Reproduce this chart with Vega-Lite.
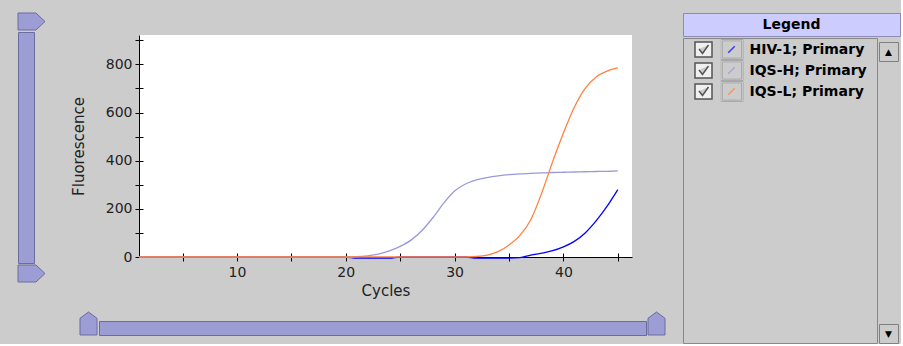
{
"$schema": "https://vega.github.io/schema/vega-lite/v6.json",
"background": "#cccccc",
"padding": {"left": 17, "top": 12, "right": 0, "bottom": 0},
"config": {
  "view": {"stroke": null},
  "font": "DejaVu Sans",
  "concat": {"spacing": 0},
  "axis": {"domainColor": "#000000", "tickColor": "#000000", "labelColor": "#222222", "titleColor": "#222222", "labelFont": "DejaVu Sans", "labelFontSize": 14, "titleFont": "DejaVu Sans", "titleFontSize": 15, "titleFontWeight": "normal", "grid": false, "tickSize": 4}
},
"resolve": {"scale": {"color": "independent", "shape": "independent", "strokeDash": "independent"}, "legend": {"color": "independent", "shape": "independent", "strokeDash": "independent"}},
"spacing": 0,
"hconcat": [
  {"vconcat": [
    {"width": 27, "height": 17, "data": {"values": [{}]}, "mark": {"type": "point", "shape": "M-1,-0.63L0.33,-0.63L1,0L0.33,0.63L-1,0.63Z", "size": 729, "filled": true, "fill": "#9d9dd5", "stroke": "#6c6c9c", "strokeWidth": 1, "strokeJoin": "round", "opacity": 1}},
    {"width": 16, "height": 231, "data": {"values": []}, "mark": "point", "view": {"fill": "#9d9dd5", "stroke": "#6c6c9c"}},
    {"width": 27, "height": 17, "data": {"values": [{}]}, "mark": {"type": "point", "shape": "M-1,-0.63L0.33,-0.63L1,0L0.33,0.63L-1,0.63Z", "size": 729, "filled": true, "fill": "#9d9dd5", "stroke": "#6c6c9c", "strokeWidth": 1, "strokeJoin": "round", "opacity": 1}}
  ], "spacing": 0},
  {"width": 23.5, "height": 1, "data": {"values": []}, "mark": "point"},
  {"vconcat": [
    {"width": 1, "height": 22, "data": {"values": []}, "mark": "point"},
    {"hconcat": [
      {"width": 1, "height": 1, "data": {"values": []}, "mark": "point"},
      {
        "width": 493, "height": 222,
        "view": {"fill": "#ffffff", "stroke": null},
        "data": {"values": [
{"cycle":1,"series":"HIV-1; Primary","fluorescence":0},{"cycle":2,"series":"HIV-1; Primary","fluorescence":0},{"cycle":3,"series":"HIV-1; Primary","fluorescence":0},{"cycle":4,"series":"HIV-1; Primary","fluorescence":0},{"cycle":5,"series":"HIV-1; Primary","fluorescence":0},{"cycle":6,"series":"HIV-1; Primary","fluorescence":0},{"cycle":7,"series":"HIV-1; Primary","fluorescence":0},{"cycle":8,"series":"HIV-1; Primary","fluorescence":0},{"cycle":9,"series":"HIV-1; Primary","fluorescence":0},{"cycle":10,"series":"HIV-1; Primary","fluorescence":0},
{"cycle":11,"series":"HIV-1; Primary","fluorescence":0},{"cycle":12,"series":"HIV-1; Primary","fluorescence":0},{"cycle":13,"series":"HIV-1; Primary","fluorescence":0},{"cycle":14,"series":"HIV-1; Primary","fluorescence":0},{"cycle":15,"series":"HIV-1; Primary","fluorescence":0},{"cycle":16,"series":"HIV-1; Primary","fluorescence":0},{"cycle":17,"series":"HIV-1; Primary","fluorescence":0},{"cycle":18,"series":"HIV-1; Primary","fluorescence":0},{"cycle":19,"series":"HIV-1; Primary","fluorescence":0},{"cycle":20,"series":"HIV-1; Primary","fluorescence":0},
{"cycle":21,"series":"HIV-1; Primary","fluorescence":-5},{"cycle":22,"series":"HIV-1; Primary","fluorescence":-5},{"cycle":23,"series":"HIV-1; Primary","fluorescence":-5},{"cycle":24,"series":"HIV-1; Primary","fluorescence":-5},{"cycle":25,"series":"HIV-1; Primary","fluorescence":0},{"cycle":26,"series":"HIV-1; Primary","fluorescence":0},{"cycle":27,"series":"HIV-1; Primary","fluorescence":0},{"cycle":28,"series":"HIV-1; Primary","fluorescence":0},{"cycle":29,"series":"HIV-1; Primary","fluorescence":0},{"cycle":30,"series":"HIV-1; Primary","fluorescence":0},
{"cycle":31,"series":"HIV-1; Primary","fluorescence":0},{"cycle":32,"series":"HIV-1; Primary","fluorescence":-5},{"cycle":33,"series":"HIV-1; Primary","fluorescence":-5},{"cycle":34,"series":"HIV-1; Primary","fluorescence":-5},{"cycle":35,"series":"HIV-1; Primary","fluorescence":-5},{"cycle":36,"series":"HIV-1; Primary","fluorescence":-3},{"cycle":37,"series":"HIV-1; Primary","fluorescence":8},{"cycle":38,"series":"HIV-1; Primary","fluorescence":16},{"cycle":39,"series":"HIV-1; Primary","fluorescence":26},{"cycle":40,"series":"HIV-1; Primary","fluorescence":42},
{"cycle":41,"series":"HIV-1; Primary","fluorescence":65},{"cycle":42,"series":"HIV-1; Primary","fluorescence":100},{"cycle":43,"series":"HIV-1; Primary","fluorescence":150},{"cycle":44,"series":"HIV-1; Primary","fluorescence":210},{"cycle":45,"series":"HIV-1; Primary","fluorescence":280},
{"cycle":1,"series":"IQS-H; Primary","fluorescence":0},{"cycle":2,"series":"IQS-H; Primary","fluorescence":0},{"cycle":3,"series":"IQS-H; Primary","fluorescence":0},{"cycle":4,"series":"IQS-H; Primary","fluorescence":0},{"cycle":5,"series":"IQS-H; Primary","fluorescence":0},{"cycle":6,"series":"IQS-H; Primary","fluorescence":0},{"cycle":7,"series":"IQS-H; Primary","fluorescence":0},{"cycle":8,"series":"IQS-H; Primary","fluorescence":0},{"cycle":9,"series":"IQS-H; Primary","fluorescence":0},{"cycle":10,"series":"IQS-H; Primary","fluorescence":0},
{"cycle":11,"series":"IQS-H; Primary","fluorescence":0},{"cycle":12,"series":"IQS-H; Primary","fluorescence":0},{"cycle":13,"series":"IQS-H; Primary","fluorescence":0},{"cycle":14,"series":"IQS-H; Primary","fluorescence":0},{"cycle":15,"series":"IQS-H; Primary","fluorescence":0},{"cycle":16,"series":"IQS-H; Primary","fluorescence":0},{"cycle":17,"series":"IQS-H; Primary","fluorescence":0},{"cycle":18,"series":"IQS-H; Primary","fluorescence":0},{"cycle":19,"series":"IQS-H; Primary","fluorescence":0},{"cycle":20,"series":"IQS-H; Primary","fluorescence":0},
{"cycle":21,"series":"IQS-H; Primary","fluorescence":1},{"cycle":22,"series":"IQS-H; Primary","fluorescence":5},{"cycle":23,"series":"IQS-H; Primary","fluorescence":12},{"cycle":24,"series":"IQS-H; Primary","fluorescence":25},{"cycle":25,"series":"IQS-H; Primary","fluorescence":44},{"cycle":26,"series":"IQS-H; Primary","fluorescence":70},{"cycle":27,"series":"IQS-H; Primary","fluorescence":110},{"cycle":28,"series":"IQS-H; Primary","fluorescence":163},{"cycle":29,"series":"IQS-H; Primary","fluorescence":224},{"cycle":30,"series":"IQS-H; Primary","fluorescence":274},
{"cycle":31,"series":"IQS-H; Primary","fluorescence":303},{"cycle":32,"series":"IQS-H; Primary","fluorescence":320},{"cycle":33,"series":"IQS-H; Primary","fluorescence":330},{"cycle":34,"series":"IQS-H; Primary","fluorescence":337},{"cycle":35,"series":"IQS-H; Primary","fluorescence":342},{"cycle":36,"series":"IQS-H; Primary","fluorescence":345},{"cycle":37,"series":"IQS-H; Primary","fluorescence":347},{"cycle":38,"series":"IQS-H; Primary","fluorescence":349},{"cycle":39,"series":"IQS-H; Primary","fluorescence":351},{"cycle":40,"series":"IQS-H; Primary","fluorescence":352},
{"cycle":41,"series":"IQS-H; Primary","fluorescence":353},{"cycle":42,"series":"IQS-H; Primary","fluorescence":354},{"cycle":43,"series":"IQS-H; Primary","fluorescence":355},{"cycle":44,"series":"IQS-H; Primary","fluorescence":356},{"cycle":45,"series":"IQS-H; Primary","fluorescence":358},
{"cycle":1,"series":"IQS-L; Primary","fluorescence":0},{"cycle":2,"series":"IQS-L; Primary","fluorescence":0},{"cycle":3,"series":"IQS-L; Primary","fluorescence":0},{"cycle":4,"series":"IQS-L; Primary","fluorescence":0},{"cycle":5,"series":"IQS-L; Primary","fluorescence":0},{"cycle":6,"series":"IQS-L; Primary","fluorescence":0},{"cycle":7,"series":"IQS-L; Primary","fluorescence":0},{"cycle":8,"series":"IQS-L; Primary","fluorescence":0},{"cycle":9,"series":"IQS-L; Primary","fluorescence":0},{"cycle":10,"series":"IQS-L; Primary","fluorescence":0},
{"cycle":11,"series":"IQS-L; Primary","fluorescence":0},{"cycle":12,"series":"IQS-L; Primary","fluorescence":0},{"cycle":13,"series":"IQS-L; Primary","fluorescence":0},{"cycle":14,"series":"IQS-L; Primary","fluorescence":0},{"cycle":15,"series":"IQS-L; Primary","fluorescence":0},{"cycle":16,"series":"IQS-L; Primary","fluorescence":0},{"cycle":17,"series":"IQS-L; Primary","fluorescence":0},{"cycle":18,"series":"IQS-L; Primary","fluorescence":0},{"cycle":19,"series":"IQS-L; Primary","fluorescence":0},{"cycle":20,"series":"IQS-L; Primary","fluorescence":0},
{"cycle":21,"series":"IQS-L; Primary","fluorescence":0},{"cycle":22,"series":"IQS-L; Primary","fluorescence":0},{"cycle":23,"series":"IQS-L; Primary","fluorescence":0},{"cycle":24,"series":"IQS-L; Primary","fluorescence":0},{"cycle":25,"series":"IQS-L; Primary","fluorescence":0},{"cycle":26,"series":"IQS-L; Primary","fluorescence":0},{"cycle":27,"series":"IQS-L; Primary","fluorescence":0},{"cycle":28,"series":"IQS-L; Primary","fluorescence":0},{"cycle":29,"series":"IQS-L; Primary","fluorescence":0},{"cycle":30,"series":"IQS-L; Primary","fluorescence":0},
{"cycle":31,"series":"IQS-L; Primary","fluorescence":0},{"cycle":32,"series":"IQS-L; Primary","fluorescence":2},{"cycle":33,"series":"IQS-L; Primary","fluorescence":8},{"cycle":34,"series":"IQS-L; Primary","fluorescence":22},{"cycle":35,"series":"IQS-L; Primary","fluorescence":50},{"cycle":36,"series":"IQS-L; Primary","fluorescence":90},{"cycle":37,"series":"IQS-L; Primary","fluorescence":155},{"cycle":38,"series":"IQS-L; Primary","fluorescence":265},{"cycle":39,"series":"IQS-L; Primary","fluorescence":395},{"cycle":40,"series":"IQS-L; Primary","fluorescence":515},
{"cycle":41,"series":"IQS-L; Primary","fluorescence":622},{"cycle":42,"series":"IQS-L; Primary","fluorescence":700},{"cycle":43,"series":"IQS-L; Primary","fluorescence":748},{"cycle":44,"series":"IQS-L; Primary","fluorescence":772},{"cycle":45,"series":"IQS-L; Primary","fluorescence":785}
        ]},
        "layer": [
          {
            "mark": {"type": "line", "strokeWidth": 1.3, "interpolate": "monotone"},
            "encoding": {
              "x": {"field": "cycle", "type": "quantitative", "scale": {"domain": [1, 46.3], "nice": false, "zero": false},
                    "axis": {"orient": "bottom", "title": "Cycles", "values": [5,10,15,20,25,30,35,40,45], "labelExpr": "datum.value % 10 == 0 ? datum.label : ''", "labelFlush": false, "labelPadding": 4, "titlePadding": 4}},
              "y": {"field": "fluorescence", "type": "quantitative", "scale": {"domain": [0, 922], "nice": false},
                    "axis": {"orient": "left", "title": "Fluorescence", "values": [0,100,200,300,400,500,600,700,800,900], "labelExpr": "datum.value % 200 == 0 && datum.value < 900 ? datum.label : ''", "labelPadding": 3, "titlePadding": 19}},
              "color": {"field": "series", "type": "nominal", "scale": {"domain": ["HIV-1; Primary", "IQS-H; Primary", "IQS-L; Primary"], "range": ["#0000ff", "#9999dd", "#ff8040"]}, "legend": null}
            }
          },
          {
            "mark": {"type": "point", "opacity": 0},
            "encoding": {
              "x": {"field": "cycle", "type": "quantitative",
                    "axis": {"orient": "bottom", "title": null, "labels": false, "domain": false, "values": [5,10,15,20,25,30,35,40,45], "tickSize": -4}},
              "y": {"field": "fluorescence", "type": "quantitative",
                    "axis": {"orient": "left", "title": null, "labels": false, "domain": false, "values": [0,100,200,300,400,500,600,700,800,900], "tickSize": -4}}
            }
          }
        ],
        "resolve": {"axis": {"x": "independent", "y": "independent"}}
      }
    ], "spacing": 0},
    {"width": 1, "height": 13, "data": {"values": []}, "mark": "point"},
    {"hconcat": [
      {"width": 8.5, "height": 1, "data": {"values": []}, "mark": "point"},
      {"width": 17, "height": 23, "data": {"values": [{}]}, "mark": {"type": "point", "shape": "M-0.74,1L-0.74,-0.45L0,-1L0.74,-0.45L0.74,1Z", "size": 529, "filled": true, "fill": "#9d9dd5", "stroke": "#6c6c9c", "strokeWidth": 1, "strokeJoin": "round", "opacity": 1}},
      {"vconcat": [
        {"width": 1, "height": 8, "data": {"values": []}, "mark": "point"},
        {"width": 547, "height": 14, "data": {"values": []}, "mark": "point", "view": {"fill": "#9d9dd5", "stroke": "#6c6c9c"}}
      ], "spacing": 0},
      {"width": 17, "height": 23, "data": {"values": [{}]}, "mark": {"type": "point", "shape": "M-0.74,1L-0.74,-0.45L0,-1L0.74,-0.45L0.74,1Z", "size": 529, "filled": true, "fill": "#9d9dd5", "stroke": "#6c6c9c", "strokeWidth": 1, "strokeJoin": "round", "opacity": 1}}
    ], "spacing": 0}
  ], "spacing": 0},
  {"width": 16, "height": 1, "data": {"values": []}, "mark": "point"},
  {"vconcat": [
    {"width": 217, "height": 23, "data": {"values": [{"label": "Legend"}]}, "mark": {"type": "text", "font": "DejaVu Sans", "fontWeight": "bold", "fontSize": 14, "color": "#000000"}, "encoding": {"text": {"field": "label"}}, "view": {"fill": "#ccccff", "stroke": "#8c8cb4"}},
    {"hconcat": [
      {"width": 194, "height": 305, "view": {"stroke": "#888888"}, "data": {"values": []},
       "layer": [
         {"mark": {"type": "point", "filled": false},
          "encoding": {"color": {"field": "series", "type": "nominal", "scale": {"domain": ["HIV-1; Primary", "IQS-H; Primary", "IQS-L; Primary"], "range": ["#0000ff", "#9999dd", "#ff8040"]},
                   "legend": {"orient": "none", "legendX": 36.5, "legendY": 1.15, "title": null, "symbolType": "M-0.3,0.3L0.3,-0.3", "symbolSize": 484, "symbolStrokeWidth": 1.5, "labelFont": "DejaVu Sans", "labelFontWeight": "bold", "labelFontSize": 14, "labelColor": "#000000", "labelOffset": 6, "rowPadding": 0, "clipHeight": 20.7, "padding": 0}}}},
         {"mark": {"type": "point", "filled": false, "fill": "#ffffff", "stroke": "#222222"},
          "encoding": {"shape": {"field": "checked", "type": "nominal", "scale": {"domain": ["on1", "on2", "on3"], "range": ["M-0.85,-0.75H0.85V0.75H-0.85Z M-0.45,-0.05L-0.1,0.4L0.5,-0.45", "M-0.85,-0.75H0.85V0.75H-0.85Z M-0.45,-0.05L-0.1,0.4L0.5,-0.45", "M-0.85,-0.75H0.85V0.75H-0.85Z M-0.45,-0.05L-0.1,0.4L0.5,-0.45"]},
                   "legend": {"orient": "none", "legendX": 9.5, "legendY": 1.15, "title": null, "symbolSize": 400, "symbolStrokeWidth": 1.5, "labelExpr": "''", "rowPadding": 0, "clipHeight": 20.7, "padding": 0}}}},
         {"mark": {"type": "point", "filled": false, "fill": "#ffffff", "stroke": "#8a8a8a"},
          "encoding": {"strokeDash": {"field": "box", "type": "nominal", "scale": {"domain": ["b1", "b2", "b3"], "range": [[1, 0], [1, 0], [1, 0]]},
                   "legend": {"orient": "none", "legendX": 37.5, "legendY": 1.15, "title": null, "symbolType": "M-1,-0.91H1V0.91H-1Z M-0.88,-0.79V0.79H0.88V-0.79Z", "symbolSize": 484, "symbolStrokeWidth": 1, "labelExpr": "''", "rowPadding": 0, "clipHeight": 20.7, "padding": 0}}}}
       ]},
      {"vconcat": [
        {"width": 1, "height": 3, "data": {"values": []}, "mark": "point"},
        {"width": 19, "height": 19, "data": {"values": [{"arrow": "▲"}]}, "mark": {"type": "text", "fontSize": 9, "color": "#000000"}, "encoding": {"text": {"field": "arrow"}}, "view": {"fill": "#cccccc", "stroke": "#808080"}},
        {"width": 19, "height": 261, "data": {"values": []}, "mark": "point"},
        {"width": 19, "height": 19, "data": {"values": [{"arrow": "▼"}]}, "mark": {"type": "text", "fontSize": 9, "color": "#000000"}, "encoding": {"text": {"field": "arrow"}}, "view": {"fill": "#cccccc", "stroke": "#808080"}}
      ], "spacing": 0}
    ], "spacing": 0, "resolve": {"scale": {"color": "independent", "shape": "independent", "strokeDash": "independent"}, "legend": {"color": "independent", "shape": "independent", "strokeDash": "independent"}}}
  ], "spacing": 0, "resolve": {"scale": {"color": "independent", "shape": "independent", "strokeDash": "independent"}, "legend": {"color": "independent", "shape": "independent", "strokeDash": "independent"}}}
]
}
